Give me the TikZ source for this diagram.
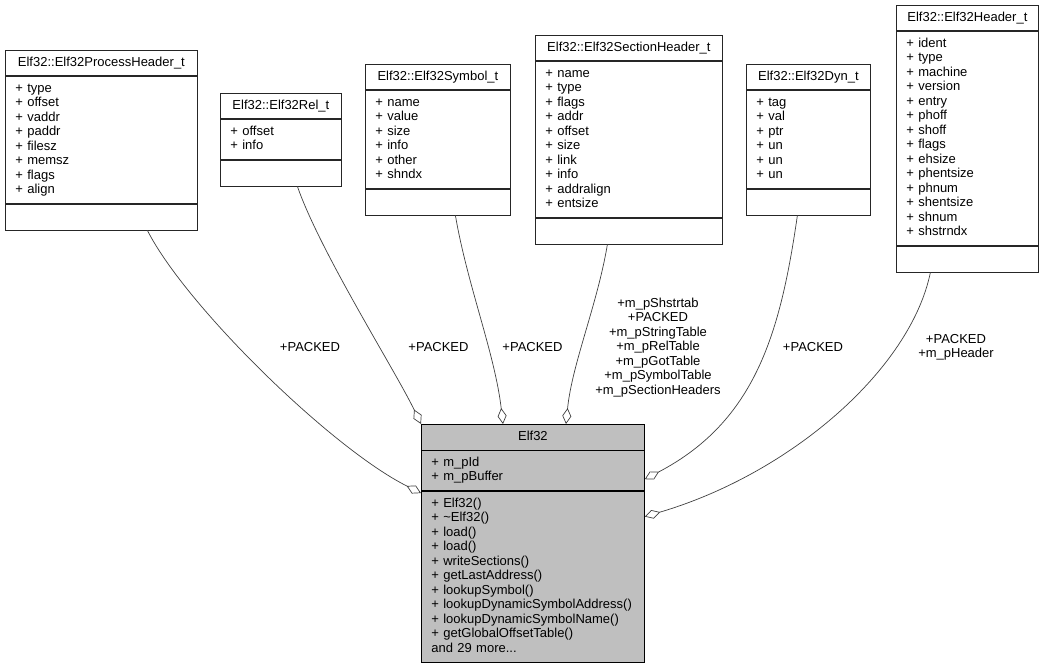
\documentclass[tikz,border=0pt]{standalone}
\usepackage{fontspec}
\setmainfont{Liberation Sans}
\usetikzlibrary{positioning,arrows.meta}
\tikzset{
  cls/.style={draw=black!85, line width=0.8pt, fill=white, inner xsep=10pt, inner ysep=5.5pt,
    execute at begin node=\strut, execute at end node=\strut},
  clshead/.style={cls, anchor=north west, minimum width=#1},
  clsbody/.style={cls, text width=#1, align=left},
  member/.style={draw=black!75, line width=0.7pt, -{Diamond[fill=white,length=16pt,width=9pt]}},
  role/.style={align=center, inner sep=0pt}
}
\begin{document}
\begin{tikzpicture}[x=1pt,y=-1pt,font=\fontsize{13}{14.5}\selectfont]
    \useasboundingbox (0,0) rectangle (1044,668);
    %
    % structs
    \node[clshead=192pt] (phdr) at (5,50) {Elf32::Elf32ProcessHeader\_t};
    \node[clsbody=172pt, below=0pt of phdr] (phdr-a) {+~type\\+~offset\\+~vaddr\\+~paddr\\+~filesz\\+~memsz\\+~flags\\+~align};
    \node[clsbody=172pt, below=0pt of phdr-a] (phdr-m) {};
    %
    \node[clshead=121pt] (rel) at (220,93) {Elf32::Elf32Rel\_t};
    \node[clsbody=101pt, below=0pt of rel] (rel-a) {+~offset\\+~info};
    \node[clsbody=101pt, below=0pt of rel-a] (rel-m) {};
    %
    \node[clshead=145pt] (sym) at (365,64) {Elf32::Elf32Symbol\_t};
    \node[clsbody=125pt, below=0pt of sym] (sym-a) {+~name\\+~value\\+~size\\+~info\\+~other\\+~shndx};
    \node[clsbody=125pt, below=0pt of sym-a] (sym-m) {};
    %
    \node[clshead=187pt] (sec) at (535,35) {Elf32::Elf32SectionHeader\_t};
    \node[clsbody=167pt, below=0pt of sec] (sec-a) {+~name\\+~type\\+~flags\\+~addr\\+~offset\\+~size\\+~link\\+~info\\+~addralign\\+~entsize};
    \node[clsbody=167pt, below=0pt of sec-a] (sec-m) {};
    %
    \node[clshead=124pt] (dyn) at (746,64) {Elf32::Elf32Dyn\_t};
    \node[clsbody=104pt, below=0pt of dyn] (dyn-a) {+~tag\\+~val\\+~ptr\\+~un\\+~un\\+~un};
    \node[clsbody=104pt, below=0pt of dyn-a] (dyn-m) {};
    %
    \node[clshead=142pt] (hdr) at (896,5) {Elf32::Elf32Header\_t};
    \node[clsbody=122pt, below=0pt of hdr] (hdr-a) {+~ident\\+~type\\+~machine\\+~version\\+~entry\\+~phoff\\+~shoff\\+~flags\\+~ehsize\\+~phentsize\\+~phnum\\+~shentsize\\+~shnum\\+~shstrndx};
    \node[clsbody=122pt, below=0pt of hdr-a] (hdr-m) {};
    %
    % the class itself
    \node[clshead=223pt, draw=black, fill=black!25] (elf) at (421,424) {Elf32};
    \node[clsbody=203pt, draw=black, fill=black!25, below=0pt of elf] (elf-a) {+~m\_pId\\+~m\_pBuffer};
    \node[clsbody=203pt, draw=black, fill=black!25, below=0pt of elf-a] (elf-m) {+~Elf32()\\+~\textasciitilde Elf32()\\+~load()\\+~load()\\+~writeSections()\\+~getLastAddress()\\+~lookupSymbol()\\+~lookupDynamicSymbolAddress()\\+~lookupDynamicSymbolName()\\+~getGlobalOffsetTable()\\and 29 more...};
    %
    % usage edges
    \draw[member] ([xshift=46pt]phdr-m.south) .. controls +(38,75) and +(-90,-45) .. ([yshift=-2pt]elf-m.north west);
    \draw[member] ([xshift=16.5pt]rel-m.south) .. controls +(23,66) and +(-26,-54) .. (elf.north west);
    \draw[member] ([xshift=17.5pt]sym-m.south) .. controls +(12,70) and +(-8,-70) .. ([xshift=82pt]elf.north west);
    \draw[member] ([xshift=-21.5pt]sec-m.south) .. controls +(-10,60) and +(6,-60) .. ([xshift=145pt]elf.north west);
    \draw[member] ([xshift=-11pt]dyn-m.south) .. controls +(-17,117) and +(111,-58) .. ([yshift=-8.5pt]elf-a.east);
    \draw[member] ([xshift=-37pt]hdr-m.south) .. controls +(-20,97) and +(146,-43) .. ([yshift=-25.5pt]elf-m.north east);
    %
    \node[role] (phdr-r) at (310,347) {+PACKED};
    \node[role] (rel-r) at (438.5,347) {+PACKED};
    \node[role] (sym-r) at (532.5,347) {+PACKED};
    \node[role] (sec-r) at (658,347.5) {+m\_pShstrtab\\+PACKED\\+m\_pStringTable\\+m\_pRelTable\\+m\_pGotTable\\+m\_pSymbolTable\\+m\_pSectionHeaders};
    \node[role] (dyn-r) at (813,347) {+PACKED};
    \node[role] (hdr-r) at (956,347.5) {+PACKED\\+m\_pHeader};
  \end{tikzpicture}
\end{document}
